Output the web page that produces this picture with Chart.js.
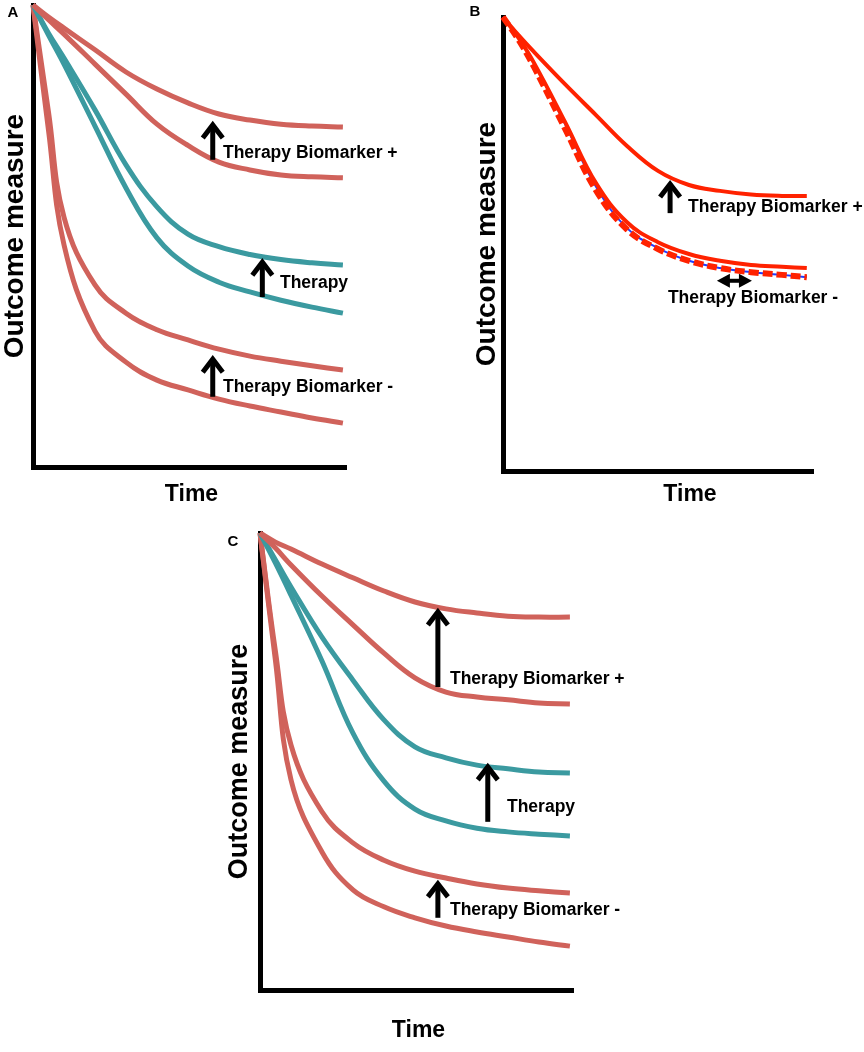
<!DOCTYPE html>
<html>
<head>
<meta charset="utf-8">
<script src="https://cdn.jsdelivr.net/npm/chart.js@4.4.1/dist/chart.umd.min.js"></script>
<style>
  body { margin: 0; background: #fff; }
  #page { position: relative; width: 864px; height: 1052px; overflow: hidden; }
  canvas { position: absolute; }
</style>
</head>
<body>
<div id="page">
  <canvas id="chartA" width="440" height="520" style="left:0px;top:0px"></canvas>
  <canvas id="chartB" width="424" height="520" style="left:440px;top:0px"></canvas>
  <canvas id="chartC" width="440" height="532" style="left:200px;top:520px"></canvas>
</div>
<script>
// ----- Data (time 0..10, outcome 0..100) -----

// Panel A
const timeA = [0, 0.5, 1, 2, 3, 4, 5, 6, 7, 8, 9, 10];
const posTherapyA = [100, 97.4, 95.0, 90.3, 85.5, 81.8, 78.8, 76.4, 75.1, 74.2, 73.8, 73.6];
const posControlA = [100, 96.8, 93.7, 87.2, 80.7, 74.2, 69.6, 66.0, 64.3, 63.2, 62.8, 62.6];
const allTherapyA = [100, 93.9, 88.5, 77.3, 65.4, 56.3, 50.4, 47.7, 46.0, 44.9, 44.2, 43.7];
const allControlA = [100, 93.5, 87.2, 73.8, 60.4, 49.6, 43.5, 40.0, 37.9, 36.1, 34.6, 33.3];
const negTherapyA = [100, 76.8, 54.1, 39.4, 33.3, 29.7, 27.5, 25.5, 24.0, 22.9, 21.9, 21.0];
const negControlA = [100, 72.9, 48.1, 29.4, 22.7, 18.8, 16.7, 14.7, 13.2, 11.9, 10.6, 9.5];

// Panel B
const timeB = [0, 0.5, 1, 2, 3, 4, 5, 6, 7, 8, 9, 9.8];
const posTherapyB = [100, 96.0, 92.3, 85.2, 78.4, 71.6, 66.1, 63.0, 61.7, 60.9, 60.6, 60.6];
const posControlB = [100, 95.4, 89.9, 76.9, 63.4, 54.8, 50.4, 47.8, 46.3, 45.4, 45.0, 44.7];
const negTherapyB = [100, 95.4, 89.9, 76.4, 62.6, 53.5, 49.1, 46.3, 44.7, 43.8, 43.2, 42.7];
const negControlB = [100, 95.0, 89.0, 75.4, 61.8, 53.2, 48.9, 46.3, 44.7, 43.8, 43.2, 42.7];

// Panel C
const timeC = [0, 0.5, 1, 2, 3, 4, 5, 6, 7, 8, 9, 10];
const posTherapyC = [100, 98.0, 96.5, 93.2, 90.2, 87.3, 84.9, 83.4, 82.5, 81.8, 81.6, 81.6];
const posControlC = [100, 96.7, 93.0, 86.2, 79.9, 73.7, 68.3, 65.2, 64.1, 63.5, 62.8, 62.6];
const allTherapyC = [100, 94.1, 88.2, 77.2, 67.8, 59.1, 53.2, 50.8, 49.2, 48.4, 47.7, 47.5];
const allControlC = [100, 93.4, 86.4, 72.0, 56.2, 45.7, 39.6, 37.0, 35.4, 34.6, 34.1, 33.7];
const negTherapyC = [100, 74.0, 53.6, 39.0, 32.2, 28.4, 26.0, 24.5, 23.2, 22.3, 21.7, 21.2];
const negControlC = [100, 72.0, 46.0, 30.2, 21.9, 18.2, 15.8, 14.0, 12.7, 11.6, 10.5, 9.6];

// Arrows (time, from outcome, to outcome) and their labels (time, outcome)
const arrowsA = [[5.8, 66.5, 74.9], [7.4, 36.8, 45.2], [5.8, 15.2, 24.2]];
const labelsA = [[6.13, 68.0, "Therapy Biomarker +"], [7.97, 39.8, "Therapy"], [6.13, 17.3, "Therapy Biomarker -"]];
const arrowsB = [[5.39, 56.8, 64.1]];
const sideArrowsB = [[6.9, 8.03, 41.9]];
const labelsB = [[5.97, 58.1, "Therapy Biomarker +"], [5.32, 38.1, "Therapy Biomarker -"]];
const arrowsC = [[5.74, 66.3, 83.6], [7.35, 36.8, 49.7], [5.74, 15.8, 24.1]];
const labelsC = [[6.13, 68.1, "Therapy Biomarker +"], [7.97, 40.0, "Therapy"], [6.13, 17.5, "Therapy Biomarker -"]];

// ----- Styles -----
const FONT = '"Liberation Sans", Arial, sans-serif';
const salmon = "#D0625B";
const teal = "#3B9AA0";
const brightRed = "#FF2200";
const blue = "#1E3CFF";

const series = (time, values) => values.map((v, i) => ({ x: time[i], y: v }));

function line(label, time, values, color, width, dash) {
  return {
    label: label,
    data: series(time, values),
    borderColor: color,
    borderWidth: width,
    borderDash: dash || [],
    fill: false,
    clip: 10,
  };
}

// draws arrows, labels, the panel letter and the "Time" title
function notesPlugin(notes) {
  return {
    id: "notes",
    afterDatasetsDraw(chart) {
      const ctx = chart.ctx;
      const xs = chart.scales.x;
      const ys = chart.scales.y;
      const area = chart.chartArea;
      ctx.save();
      ctx.fillStyle = "#000";
      ctx.strokeStyle = "#000";

      // vertical arrows
      (notes.arrows || []).forEach(a => {
        const x = xs.getPixelForValue(a[0]);
        const y0 = ys.getPixelForValue(a[1]);
        const y1 = ys.getPixelForValue(a[2]);
        ctx.lineWidth = 5;
        ctx.lineCap = "butt";
        ctx.lineJoin = "miter";
        ctx.beginPath();
        ctx.moveTo(x, y0);
        ctx.lineTo(x, y1 + 4);
        ctx.stroke();
        ctx.beginPath();
        ctx.moveTo(x - 10, y1 + 17);
        ctx.lineTo(x, y1 + 4);
        ctx.lineTo(x + 10, y1 + 17);
        ctx.stroke();
      });

      // double headed arrows
      (notes.sideArrows || []).forEach(a => {
        const x0 = xs.getPixelForValue(a[0]);
        const x1 = xs.getPixelForValue(a[1]);
        const y = ys.getPixelForValue(a[2]);
        ctx.lineWidth = 4;
        ctx.beginPath();
        ctx.moveTo(x0 + 8, y);
        ctx.lineTo(x1 - 8, y);
        ctx.stroke();
        ctx.beginPath();
        ctx.moveTo(x0, y);
        ctx.lineTo(x0 + 13, y - 7);
        ctx.lineTo(x0 + 13, y + 7);
        ctx.closePath();
        ctx.moveTo(x1, y);
        ctx.lineTo(x1 - 13, y - 7);
        ctx.lineTo(x1 - 13, y + 7);
        ctx.closePath();
        ctx.fill();
      });

      // labels
      ctx.font = "bold 17.5px " + FONT;
      ctx.textAlign = "left";
      ctx.textBaseline = "middle";
      (notes.labels || []).forEach(l => {
        ctx.fillText(l[2], xs.getPixelForValue(l[0]), ys.getPixelForValue(l[1]));
      });

      // x axis title
      ctx.font = "bold 23px " + FONT;
      ctx.textAlign = "center";
      ctx.fillText("Time", (area.left + area.right) / 2 + notes.timeDx, area.bottom + notes.timeDy);

      // panel letter
      ctx.font = "bold 15px " + FONT;
      ctx.fillText(notes.letter[0], notes.letter[1], notes.letter[2]);
      ctx.restore();
    }
  };
}

function makeChart(id, datasets, opt) {
  return new Chart(document.getElementById(id), {
    type: "line",
    data: { datasets: datasets },
    options: {
      responsive: false,
      animation: false,
      layout: { padding: opt.padding },
      elements: {
        point: { radius: 0 },
        line: { tension: 0.4 }
      },
      plugins: {
        legend: { display: false },
        tooltip: { enabled: false }
      },
      scales: {
        x: {
          type: "linear",
          min: 0,
          max: opt.xMax,
          grid: { display: false, drawTicks: false },
          ticks: { display: false },
          border: { display: true, width: 5, color: "#000" }
        },
        y: {
          min: 0,
          max: 100,
          grid: { display: false, drawTicks: false },
          ticks: { display: false },
          border: { display: true, width: 5, color: "#000" },
          title: {
            display: true,
            text: "Outcome measure",
            color: "#000",
            font: { family: FONT, size: opt.titleSize, weight: "bold", lineHeight: 1 },
            padding: opt.titlePad
          }
        }
      }
    },
    plugins: [notesPlugin(opt.notes)]
  });
}

// Panel A
makeChart("chartA", [
  line("Biomarker + therapy", timeA, posTherapyA, salmon, 5),
  line("Biomarker + control", timeA, posControlA, salmon, 5),
  line("Therapy", timeA, allTherapyA, teal, 5),
  line("Control", timeA, allControlA, teal, 5),
  line("Biomarker - therapy", timeA, negTherapyA, salmon, 5),
  line("Biomarker - control", timeA, negControlA, salmon, 5),
], {
  padding: { left: 0, top: 5, right: 94, bottom: 53 },
  xMax: 10.1,
  titleSize: 28,
  titlePad: { top: 1, bottom: 4 },
  notes: { arrows: arrowsA, labels: labelsA, timeDx: 2, timeDy: 28, letter: ["A", 13, 13] }
});

// Panel B
makeChart("chartB", [
  line("Biomarker + therapy", timeB, posTherapyB, brightRed, 4),
  line("Biomarker + control", timeB, posControlB, brightRed, 4),
  line("Biomarker - control", timeB, negControlB, brightRed, 6, [10, 4]),
  line("Biomarker - therapy", timeB, negTherapyB, blue, 2),
], {
  padding: { left: 30, top: 17, right: 51, bottom: 49 },
  xMax: 10,
  titleSize: 28,
  titlePad: { top: 3, bottom: 2 },
  notes: { arrows: arrowsB, sideArrows: sideArrowsB, labels: labelsB, timeDx: 32, timeDy: 24, letter: ["B", 35, 12] }
});

// Panel C
makeChart("chartC", [
  line("Biomarker + therapy", timeC, posTherapyC, salmon, 5),
  line("Biomarker + control", timeC, posControlC, salmon, 5),
  line("Therapy", timeC, allTherapyC, teal, 5),
  line("Control", timeC, allControlC, teal, 5),
  line("Biomarker - therapy", timeC, negTherapyC, salmon, 5),
  line("Biomarker - control", timeC, negControlC, salmon, 5),
], {
  padding: { left: 20, top: 13, right: 67, bottom: 62 },
  xMax: 10.1,
  titleSize: 27,
  titlePad: { top: 6.5, bottom: 6.5 },
  notes: { arrows: arrowsC, labels: labelsC, timeDx: 2, timeDy: 41, letter: ["C", 33, 22] }
});
</script>
</body>
</html>
